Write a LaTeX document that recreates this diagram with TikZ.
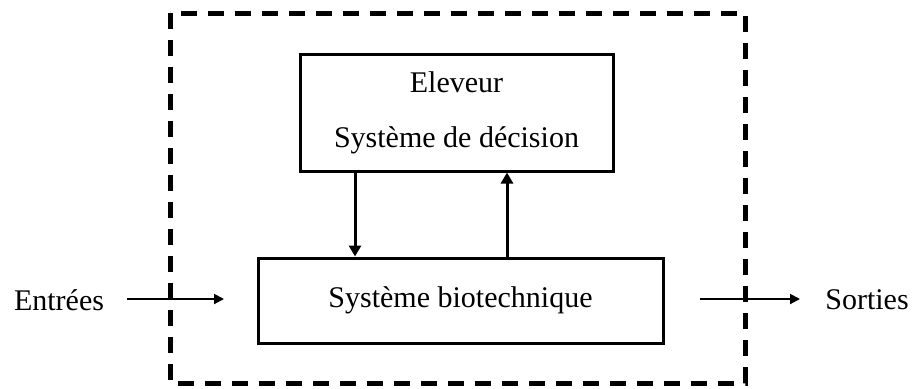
\documentclass[tikz,border=0pt]{standalone}
\usepackage{fontspec}
\setmainfont{Liberation Serif}
\usetikzlibrary{arrows.meta}
\begin{document}
\begin{tikzpicture}[x=0.5pt,y=-0.5pt,>={Triangle[length=5pt,width=5pt]},
   bloc/.style={draw, line width=1.5pt, inner sep=0pt},
   cadre/.style={line width=2.5pt, dash pattern=on 8pt off 5.5pt}]
   \useasboundingbox (0,0) rectangle (912,388);
   \fontsize{15}{18}\selectfont
   % cadre
   \draw[cadre] (170,13) rectangle (745,383);

   % blocs
   \node[bloc, minimum width=156.5pt, minimum height=58.5pt, align=center]
      (decision) at (456.5,112.5) {Eleveur\\[9.5pt]Système de décision};
   \node[bloc, minimum width=202.5pt, minimum height=42.5pt]
      (biotech) at (460.5,300.5) {Système biotechnique};

   % liaisons
   \draw[-{Triangle[length=5.5pt,width=6pt]}, line width=1.5pt]
      ([xshift=-50.75pt]decision.south)
      -- ([xshift=-50.75pt]decision.south |- biotech.north);
   \draw[-{Triangle[length=5.5pt,width=6pt]}, line width=1.5pt]
      ([xshift=25.25pt]decision.south |- biotech.north)
      -- ([xshift=25.25pt]decision.south);

   % entrées / sorties
   \node (entrees) at (59,300) {Entrées};
   \node (sorties) at (867,300) {Sorties};
   \coordinate (e1) at (127,299);
   \coordinate (e2) at (224,299);
   \coordinate (s1) at (700,299);
   \coordinate (s2) at (800,299);
   \draw[->, line width=1pt] (e1) -- (e2);
   \draw[->, line width=1pt] (s1) -- (s2);
\end{tikzpicture}
\end{document}
